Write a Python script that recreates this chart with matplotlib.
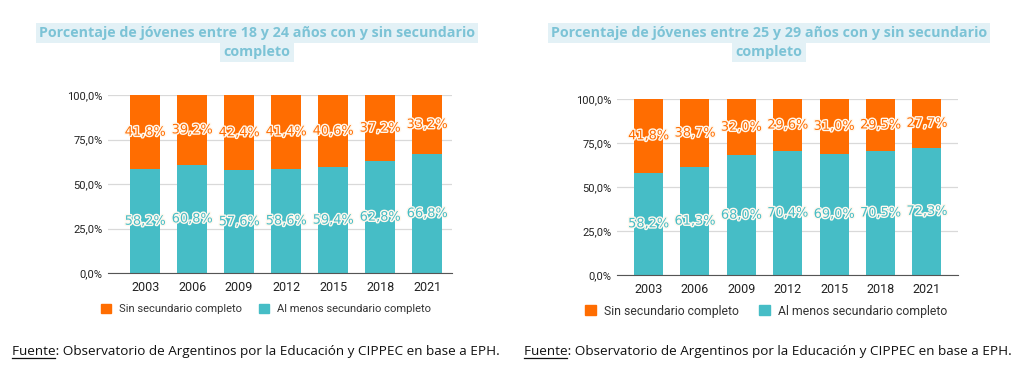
#!/usr/bin/env python
# Two stacked 100% bar charts: youth with / without secondary school completed

import matplotlib
matplotlib.use("Agg")
import matplotlib.pyplot as plt
import matplotlib.patheffects as pe
from matplotlib.patches import Patch

years = ["2003", "2006", "2009", "2012", "2015", "2018", "2021"]

# 18 a 24 años
con_18_24 = [58.2, 60.8, 57.6, 58.6, 59.4, 62.8, 66.8]
sin_18_24 = [41.8, 39.2, 42.4, 41.4, 40.6, 37.2, 33.2]

# 25 a 29 años
con_25_29 = [58.2, 61.3, 68.0, 70.4, 69.0, 70.5, 72.3]
sin_25_29 = [41.8, 38.7, 32.0, 29.6, 31.0, 29.5, 27.7]

labels = ["Sin secundario completo", "Al menos secundario completo"]
titles = ["Porcentaje de jóvenes entre 18 y 24 años con y sin secundario",
          "Porcentaje de jóvenes entre 25 y 29 años con y sin secundario"]
fuente = "Fuente"
fuente_rest = ": Observatorio de Argentinos por la Educación y CIPPEC en base a EPH."

ORANGE = "#ff6d01"
TEAL = "#46bdc6"
TITLE_C = "#7cc3d6"
TITLE_BG = "#e3f1f6"


def fmt(v):
  return ("%.1f%%" % v).replace(".", ",")


def draw(ax, con, sin, xlim, width):
  x = list(range(len(years)))
  ax.bar(x, con, width=width, color=TEAL, zorder=2)
  ax.bar(x, sin, width=width, bottom=con, color=ORANGE, zorder=2)
  for i in x:
    for val, base, col in ((con[i], 0, TEAL), (sin[i], con[i], ORANGE)):
      t = ax.text(i, base + val / 2, fmt(val), ha="center", va="center",
                  fontsize=9.3, color=col, family="DejaVu Sans", zorder=3)
      t.set_path_effects([pe.withStroke(linewidth=2.0, foreground="#fff8ee")])
  ax.set_ylim(0, 100)
  ax.set_xlim(*xlim)
  ax.set_yticks([0, 25, 50, 75, 100])
  ax.set_yticklabels([fmt(v) for v in [0, 25, 50, 75, 100]])
  ax.set_xticks(x)
  ax.set_xticklabels(years)
  ax.grid(axis="y", color="#d9d9d9", linewidth=0.9, zorder=0)
  for s in ["top", "right", "left"]:
    ax.spines[s].set_visible(False)
  ax.spines["bottom"].set_color("#555555")
  ax.tick_params(axis="y", length=0, labelsize=8, pad=4, labelcolor="#222222")
  ax.tick_params(axis="x", length=0, labelsize=9, pad=6, labelcolor="#222222")


plt.rcParams["font.family"] = ["Roboto", "DejaVu Sans"]
fig = plt.figure(figsize=(10.24, 3.84), dpi=100)

W, H = 1024.0, 384.0
ax1 = fig.add_axes([108 / W, (H - 273) / H, 344 / W, 178 / H])
draw(ax1, con_18_24, sin_18_24, (-0.79, 6.53), 0.64)
ax2 = fig.add_axes([617 / W, (H - 275) / H, 341 / W, 176 / H])
draw(ax2, con_25_29, sin_25_29, (-0.68, 6.67), 0.625)

# titles, each line on its own highlight
box = dict(facecolor=TITLE_BG, edgecolor="none", pad=2.5)
for cx, ty, title in ((257, 33, titles[0]), (769, 33, titles[1])):
  fig.text(cx / W, 1 - ty / H, title, ha="center", va="center", fontsize=10.3,
           fontweight="bold", color=TITLE_C, family="Open Sans", bbox=box)
  fig.text(cx / W, 1 - (ty + 19) / H, "completo", ha="center", va="center",
           fontsize=10.3, fontweight="bold", color=TITLE_C, family="Open Sans",
           bbox=box)

handles = [Patch(color=ORANGE), Patch(color=TEAL)]
for ax, cx, ly, fs in ((ax1, 266, 309, 8), (ax2, 766, 311, 8.8)):
  ax.legend(handles, labels, loc="center", bbox_to_anchor=(cx / W, 1 - ly / H),
            bbox_transform=fig.transFigure, ncol=2, frameon=False,
            fontsize=fs, handlelength=0.9, handleheight=0.9,
            handletextpad=0.7, columnspacing=1.6, labelcolor="#333333")

# source notes, with "Fuente" underlined
for x0 in (12, 524):
  probe = fig.text(x0 / W, 1 - 352 / H, fuente, ha="left", va="center",
                   fontsize=9.7, family="Open Sans")
  fig.canvas.draw()
  bb = probe.get_window_extent()
  probe.remove()
  fig.text(x0 / W, 1 - 352 / H, fuente + fuente_rest, ha="left", va="center",
           fontsize=9.7, color="#111111", family="Open Sans")
  fig.add_artist(plt.Line2D([bb.x0 / W, (bb.x1 - 1) / W],
                            [(bb.y0 + 1) / H, (bb.y0 + 1) / H],
                            color="#111111", linewidth=0.9))

fig.savefig("out.png", dpi=100)
